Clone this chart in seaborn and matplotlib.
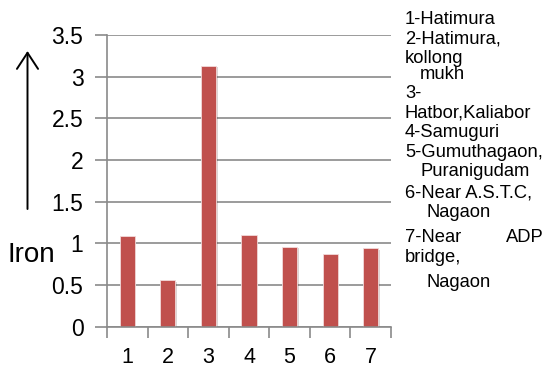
import matplotlib
matplotlib.use("Agg")
import matplotlib.pyplot as plt
import matplotlib.patheffects as pe
from matplotlib.ticker import FixedLocator
import seaborn as sns
import pandas as pd

# Iron concentration at each sampling site
sites = ["1", "2", "3", "4", "5", "6", "7"]
iron = [1.09, 0.56, 3.13, 1.10, 0.96, 0.87, 0.94]
yticks = [0, 0.5, 1, 1.5, 2, 2.5, 3, 3.5]
ytick_labels = ["0", "0.5", "1", "1.5", "2", "2.5", "3", "3.5"]

# Site key shown to the right of the chart: (text, x px, baseline y px)
site_key = [
    ("1-Hatimura", 405, 24),
    ("2-Hatimura,", 405, 44),
    ("kollong", 405, 63),
    ("mukh", 420, 79),
    ("3-", 405, 98),
    ("Hatbor,Kaliabor", 405, 117),
    ("4-Samuguri", 405, 137),
    ("5-Gumuthagaon,", 405, 157),
    ("Puranigudam", 420, 176),
    ("6-Near A.S.T.C,", 405, 197),
    ("Nagaon", 427, 217),
    ("7-Near", 405, 242),
    ("ADP", 506, 242),
    ("bridge,", 405, 262),
    ("Nagaon", 427, 287),
]

df = pd.DataFrame({"site": sites, "iron": iron})

sns.set_style("white")
plt.rcParams["font.family"] = ["Liberation Sans", "DejaVu Sans"]
plt.rcParams["text.color"] = "black"

W, H = 544, 369
fig = plt.figure(figsize=(W / 100, H / 100), dpi=100)
ax = fig.add_axes([107 / W, 1 - 326.5 / H, (391 - 107) / W, (326.5 - 35) / H])

grid_c = "#8a8a8a"
ax.set_axisbelow(True)
ax.yaxis.grid(True, color=grid_c, linewidth=1.2)
ax.xaxis.grid(False)

sns.barplot(data=df, x="site", y="iron", color="#C0504D", saturation=1,
            width=0.37, ax=ax, edgecolor="#f3dada", linewidth=0.6)
for p in ax.patches:
    p.set_path_effects([pe.SimplePatchShadow(offset=(1.2, -1.2), alpha=0.18), pe.Normal()])

ax.set_xlim(-0.5, len(sites) - 0.5)
ax.set_ylim(0, 3.5)
ax.set_yticks(yticks)
ax.set_yticklabels(ytick_labels)
ax.set_xlabel("")
ax.set_ylabel("")

# category boundary ticks on the x axis
ax.xaxis.set_minor_locator(FixedLocator([i - 0.5 for i in range(len(sites) + 1)]))
ax.tick_params(axis="x", which="both", bottom=True)
ax.tick_params(axis="x", which="major", length=0, pad=15, labelsize=15.5, labelcolor="black")
ax.tick_params(axis="x", which="minor", length=8, width=1.2, color=grid_c, direction="out")
ax.tick_params(axis="y", which="major", left=True, length=9, width=1.2, color=grid_c,
               direction="out", pad=8, labelsize=16.5, labelcolor="black")

for s in ["top", "right"]:
    ax.spines[s].set_visible(False)
for s in ["left", "bottom"]:
    ax.spines[s].set_color(grid_c)
    ax.spines[s].set_linewidth(1.2)

# axis title with an upward arrow
fig.text(8 / W, 1 - 262 / H, "Iron", fontsize=20, ha="left", va="baseline")
ax.annotate("", xy=(27.5, H - 51), xytext=(27.5, H - 209),
            xycoords="figure pixels", textcoords="figure pixels",
            arrowprops=dict(arrowstyle="->,head_length=0.58,head_width=0.38",
                            mutation_scale=20, lw=1.4, color="black",
                            shrinkA=0, shrinkB=0))

for text, x, y in site_key:
    fig.text(x / W, 1 - y / H, text, fontsize=13.2, ha="left", va="baseline")

fig.savefig("out.png", dpi=100)
